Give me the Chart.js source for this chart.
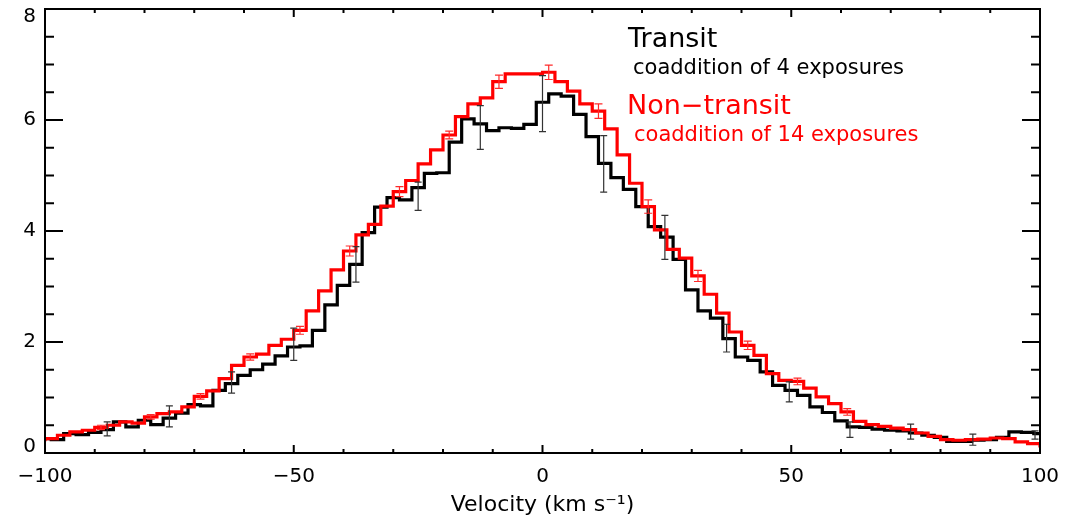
<!DOCTYPE html>
<html lang="en">
<head>
<meta charset="UTF-8">
<title>Transit / non-transit line profile</title>
<script src="https://cdn.jsdelivr.net/npm/chart.js"></script>
<style>
  html, body { margin: 0; padding: 0; background: #fff; }
  #wrap { width: 1066px; height: 521px; position: relative; }
</style>
</head>
<body>
<div id="wrap"><canvas id="profile"></canvas></div>
<script>
// bin centres (km/s) and fluxes
const transitVel = [-100,-97.5,-95,-92.5,-90,-87.5,-85,-82.5,-80,-77.5,-75,-72.5,-70,-67.5,-65,-62.5,-60,
  -57.5,-55,-52.5,-50,-47.5,-45,-42.5,-40,-37.5,-35,-32.5,-30,-27.5,-25,-22.5,-20,
  -17.5,-15,-12.5,-10,-7.5,-5,-2.5,0,2.5,5,7.5,10,12.5,15,17.5,20,
  22.5,25,27.5,30,32.5,35,37.5,40,42.5,45,47.5,50,52.5,55,57.5,60,
  62.5,65,67.5,70,72.5,75,77.5,80,82.5,85,87.5,90,92.5,95,97.5,100];
const transitFlux = [0.26,0.24,0.35,0.33,0.37,0.42,0.56,0.47,0.59,0.51,0.63,0.72,0.87,0.85,1.13,1.25,1.40,
  1.50,1.60,1.75,1.91,1.93,2.21,2.67,3.02,3.40,3.97,4.43,4.60,4.56,4.78,5.04,5.05,
  5.60,6.02,5.93,5.81,5.86,5.85,5.92,6.32,6.47,6.43,6.10,5.70,5.22,4.96,4.75,4.44,
  4.08,3.89,3.49,2.94,2.56,2.43,2.06,1.73,1.67,1.46,1.22,1.13,1.04,0.83,0.73,0.58,
  0.47,0.46,0.43,0.41,0.40,0.36,0.32,0.28,0.21,0.21,0.23,0.24,0.28,0.38,0.37,0.35];

const nonTransitVel = [-101.25,-98.75,-96.25,-93.75,-91.25,-88.75,-86.25,-83.75,-81.25,-78.75,-76.25,-73.75,-71.25,-68.75,-66.25,-63.75,-61.25,
  -58.75,-56.25,-53.75,-51.25,-48.75,-46.25,-43.75,-41.25,-38.75,-36.25,-33.75,-31.25,-28.75,-26.25,-23.75,-21.25,
  -18.75,-16.25,-13.75,-11.25,-8.75,-6.25,-3.75,-1.25,1.25,3.75,6.25,8.75,11.25,13.75,16.25,18.75,
  21.25,23.75,26.25,28.75,31.25,33.75,36.25,38.75,41.25,43.75,46.25,48.75,51.25,53.75,56.25,58.75,
  61.25,63.75,66.25,68.75,71.25,73.75,76.25,78.75,81.25,83.75,86.25,88.75,91.25,93.75,96.25,98.75,101.25];
const nonTransitFlux = [0.24,0.26,0.32,0.38,0.41,0.46,0.50,0.56,0.54,0.65,0.71,0.74,0.83,1.02,1.12,1.34,1.58,
  1.73,1.78,1.94,2.05,2.21,2.56,2.92,3.30,3.64,3.93,4.12,4.45,4.71,4.91,5.21,5.46,
  5.73,6.06,6.29,6.40,6.69,6.83,6.83,6.83,6.86,6.69,6.52,6.29,6.16,5.84,5.37,4.86,
  4.44,4.02,3.67,3.51,3.19,2.86,2.52,2.18,1.94,1.76,1.43,1.31,1.29,1.17,1.01,0.89,
  0.74,0.57,0.51,0.48,0.45,0.42,0.36,0.30,0.24,0.23,0.24,0.25,0.27,0.26,0.20,0.17,0.13];

// error bars
const transitErrVel = [-87.5,-75,-62.5,-50,-37.5,-25,-12.5,0,12.3,24.6,37,49.6,61.8,74,86.5,99];
const transitErrLo  = [0.31,0.47,1.08,1.67,3.08,4.37,5.47,5.79,4.70,3.49,1.82,0.92,0.28,0.25,0.14,0.25];
const transitErrHi  = [0.56,0.85,1.46,2.25,3.72,4.88,6.26,6.80,5.72,4.28,2.32,1.28,0.56,0.52,0.34,0.40];

const nonTransitErrVel  = [-88.75,-78.75,-68.75,-58.75,-48.75,-38.75,-28.75,-18.75,-8.75,1.25,11.25,21.25,31.25,41.25,51.25,61.25];
const nonTransitErrMid  = [0.46,0.65,1.02,1.73,2.21,3.64,4.71,5.73,6.69,6.86,6.16,4.44,3.19,1.94,1.29,0.74];
const nonTransitErrHalf = [0.04,0.04,0.05,0.055,0.07,0.09,0.09,0.07,0.12,0.13,0.13,0.12,0.10,0.075,0.06,0.06];

const xMajorTicks = [-100, -50, 0, 50, 100];
const yMajorTicks = [0, 2, 4, 6, 8];

const FONT = '"DejaVu Sans", sans-serif';
Chart.defaults.font.family = FONT;
Chart.defaults.color = '#000';

function errorBar(ctx, px, pLo, pHi, cap) {
  ctx.beginPath();
  ctx.moveTo(px, pLo); ctx.lineTo(px, pHi);
  ctx.moveTo(px - cap, pLo); ctx.lineTo(px + cap, pLo);
  ctx.moveTo(px - cap, pHi); ctx.lineTo(px + cap, pHi);
  ctx.stroke();
}

const decorations = {
  id: 'decorations',
  afterDatasetsDraw(chart) {
    const { ctx, scales: { x, y } } = chart;
    ctx.save();
    ctx.lineWidth = 1.2;
    ctx.strokeStyle = '#333';
    transitErrVel.forEach((v, i) => {
      errorBar(ctx, x.getPixelForValue(v), y.getPixelForValue(transitErrLo[i]), y.getPixelForValue(transitErrHi[i]), 3.5);
    });
    ctx.strokeStyle = '#ff2a2a';
    nonTransitErrVel.forEach((v, i) => {
      const m = nonTransitErrMid[i], h = nonTransitErrHalf[i];
      errorBar(ctx, x.getPixelForValue(v), y.getPixelForValue(m - h), y.getPixelForValue(m + h), 4);
    });
    ctx.restore();
  },
  afterDraw(chart) {
    const { ctx, chartArea: a, scales: { x, y } } = chart;
    ctx.save();
    ctx.strokeStyle = '#000';
    ctx.lineWidth = 2;
    ctx.strokeRect(a.left, a.top, a.right - a.left, a.bottom - a.top);
    ctx.beginPath();
    for (let v = -100; v <= 100; v += 10) {
      const px = x.getPixelForValue(v);
      const len = xMajorTicks.includes(v) ? 8 : 4;
      ctx.moveTo(px, a.bottom); ctx.lineTo(px, a.bottom - len);
      ctx.moveTo(px, a.top); ctx.lineTo(px, a.top + len);
    }
    for (let v = 0; v <= 8; v += 0.5) {
      const py = y.getPixelForValue(v);
      const len = yMajorTicks.includes(v) ? 18 : 9;
      ctx.moveTo(a.left, py); ctx.lineTo(a.left + len, py);
      ctx.moveTo(a.right, py); ctx.lineTo(a.right - len, py);
    }
    ctx.stroke();

    // y labels, the end ones kept inside the frame as in the original
    ctx.fillStyle = '#000';
    ctx.font = '20px ' + FONT;
    ctx.textAlign = 'right';
    ctx.textBaseline = 'middle';
    yMajorTicks.forEach(v => {
      const py = Math.min(Math.max(y.getPixelForValue(v), a.top + 8), a.bottom - 6);
      ctx.fillText(String(v), a.left - 9, py);
    });

    // annotation
    ctx.textBaseline = 'alphabetic';
    ctx.textAlign = 'left';
    ctx.font = '27px ' + FONT;
    ctx.fillText('Transit', 628, 47);
    ctx.font = '21px ' + FONT;
    ctx.fillText('coaddition of 4 exposures', 633, 74);
    ctx.fillStyle = '#ff0000';
    ctx.font = '27px ' + FONT;
    ctx.fillText('Non\u2212transit', 627, 114);
    ctx.font = '21px ' + FONT;
    ctx.fillText('coaddition of 14 exposures', 634, 141);
    ctx.restore();
  }
};

new Chart(document.getElementById('profile'), {
  type: 'line',
  data: {
    datasets: [
      {
        label: 'Non-transit',
        data: nonTransitVel.map((v, i) => ({ x: v, y: nonTransitFlux[i] })),
        borderColor: '#ff0000',
        borderWidth: 3.2,
        stepped: 'middle',
        pointRadius: 0,
        borderJoinStyle: 'miter',
        fill: false,
        order: 0
      },
      {
        label: 'Transit',
        data: transitVel.map((v, i) => ({ x: v, y: transitFlux[i] })),
        borderColor: '#000000',
        borderWidth: 3.2,
        stepped: 'middle',
        pointRadius: 0,
        borderJoinStyle: 'miter',
        fill: false,
        order: 1
      }
    ]
  },
  options: {
    responsive: true,
    maintainAspectRatio: false,
    animation: false,
    layout: { padding: { top: 9, right: 26, left: 0, bottom: 0 } },
    plugins: { legend: { display: false }, tooltip: { enabled: false } },
    scales: {
      x: {
        type: 'linear',
        min: -100,
        max: 100,
        grid: { display: false, drawTicks: false },
        border: { display: false },
        ticks: {
          stepSize: 50,
          padding: 12,
          maxRotation: 0,
          font: { size: 20 },
          callback: v => (v < 0 ? '\u2212' + Math.abs(v) : String(v))
        },
        title: {
          display: true,
          text: 'Velocity (km s\u207B\u00B9)',
          font: { size: 22 },
          padding: { top: 0, bottom: 3 }
        },
        afterFit(s) { s.height = 68; s.paddingLeft = 0; s.paddingRight = 0; }
      },
      y: {
        min: 0,
        max: 8,
        grid: { display: false, drawTicks: false },
        border: { display: false },
        ticks: { stepSize: 2, display: false },
        afterFit(s) { s.width = 45; s.paddingTop = 0; s.paddingBottom = 0; }
      }
    }
  },
  plugins: [decorations]
});
</script>
</body>
</html>
